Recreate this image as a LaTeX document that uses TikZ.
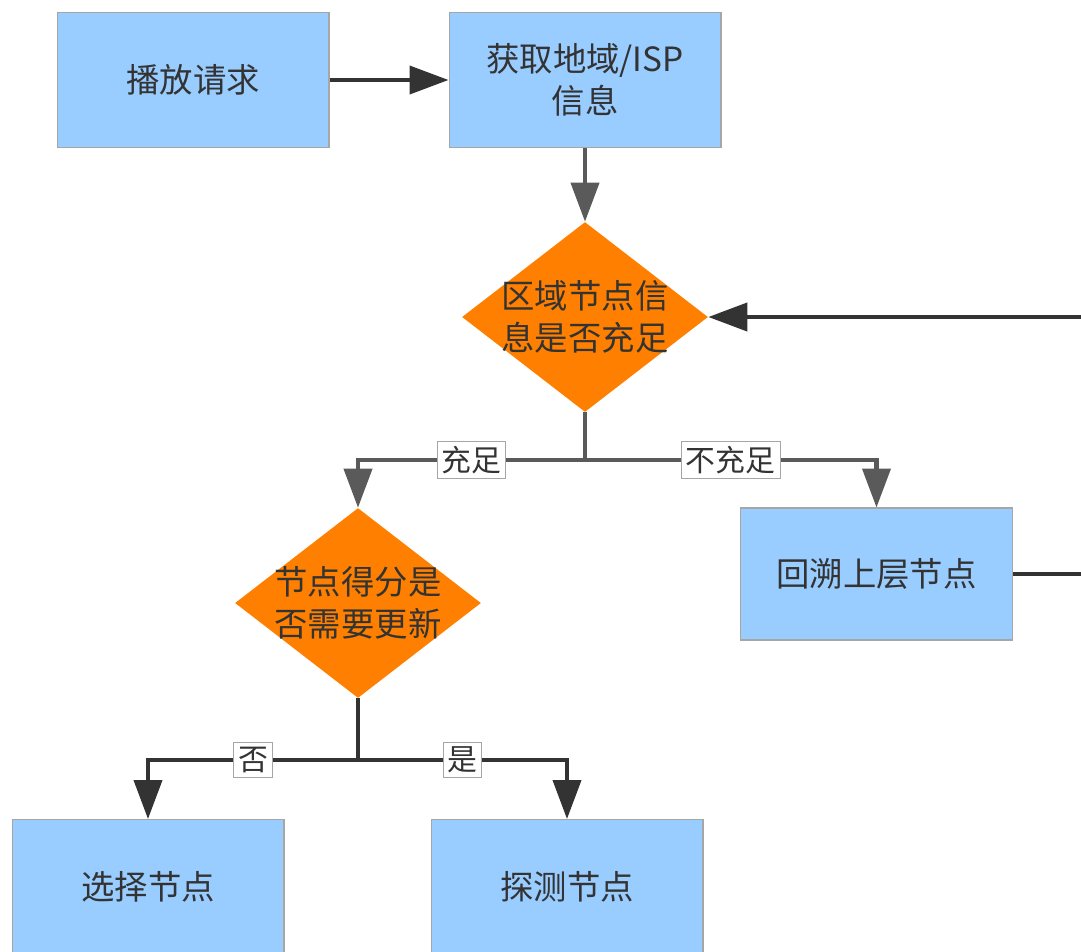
\documentclass[tikz,border=0pt]{standalone}
\usepackage{fontspec}
\newfontfamily\cjk{Noto Sans CJK SC}
\usetikzlibrary{shapes.geometric,arrows.meta}
\definecolor{boxblue}{HTML}{99CCFF}
\definecolor{boxline}{HTML}{A6A6A6}
\definecolor{dorange}{HTML}{FF8000}
\definecolor{txt}{HTML}{333333}
\definecolor{darkline}{HTML}{333333}
\definecolor{greyline}{HTML}{5A5A5A}
\tikzset{
  x=0.02cm,y=-0.02cm,
  procbox/.style={draw=boxline,line width=0.6pt,fill=boxblue,minimum width=5.44cm,minimum height=2.7cm,inner sep=0pt,align=center,font=\cjk\fontsize{19}{24}\selectfont,text=txt},
  decide/.style={diamond,fill=dorange,minimum width=4.92cm,minimum height=3.8cm,inner sep=0pt},
  dtext/.style={inner sep=0pt,align=center,font=\cjk\fontsize{19}{24}\selectfont,text=txt},
  conn/.style={line width=2.3pt,-{Triangle[length=0.78cm,width=0.56cm]}},
  plain/.style={line width=2.3pt},
  lab/.style={draw=boxline,line width=0.5pt,fill=white,inner sep=2.5pt,font=\cjk\fontsize{17}{19}\selectfont,text=txt}
}
\begin{document}
\begin{tikzpicture}
\useasboundingbox (0,0) rectangle (1081,951);
\clip (0,0) rectangle (1081,951);
\node[procbox] (req) at (193,80) {播放请求};
\node[procbox] (geo) at (585,80) {获取地域/ISP\\信息};
\node[decide] (d1) at (585,317) {};
\node[dtext] at (d1) {区域节点信\\息是否充足};
\node[decide] (d2) at (358,603) {};
\node[dtext] at (d2) {节点得分是\\否需要更新};
\node[procbox,minimum height=2.64cm] (back) at (876.5,574) {回溯上层节点};
\node[procbox] (sel) at (148,887) {选择节点};
\node[procbox] (probe) at (567,887) {探测节点};
\coordinate (rin) at (1081,317);
\coordinate (rout) at (1081,574);
\coordinate (j1) at (585,460);
\coordinate (j2) at (358,760);

\draw[conn,darkline] (req.east) -- (geo.west);
\draw[conn,greyline] (geo.south) -- (d1.north);
\draw[conn,darkline] (rin) -- (d1.east);
\draw[plain,darkline] (back.east) -- (rout);

\draw[plain,greyline] (d1.south) -- (j1);
\draw[conn,greyline] (j1) -- (d2.north |- j1) node[lab,pos=0.5] {充足} -- (d2.north);
\draw[conn,greyline] (j1) -- (back.north |- j1) node[lab,pos=0.5] {不充足} -- (back.north);

\draw[plain,darkline] (d2.south) -- (j2);
\draw[conn,darkline] (j2) -- (sel.north |- j2) node[lab,pos=0.5] {否} -- (sel.north);
\draw[conn,darkline] (j2) -- (probe.north |- j2) node[lab,pos=0.5] {是} -- (probe.north);
\end{tikzpicture}
\end{document}
